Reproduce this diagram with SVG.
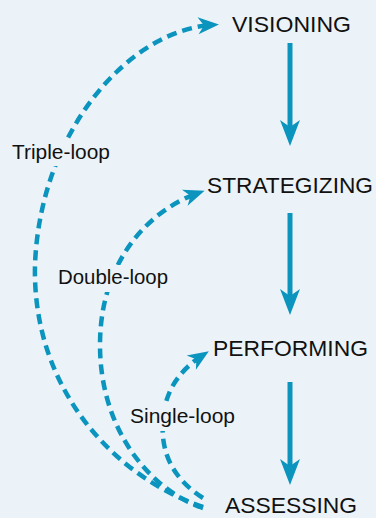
<svg xmlns="http://www.w3.org/2000/svg" width="376" height="518" viewBox="0 0 376 518">
  <style>
    .title { font-family: "Liberation Sans", "DejaVu Sans", sans-serif; font-size: 22px; fill: #111; }
    .label { font-family: "Liberation Sans", "DejaVu Sans", sans-serif; font-size: 20px; fill: #111; }
    .solid { fill: none; stroke: #0A94BE; stroke-width: 5; }
    .dashed { fill: none; stroke: #0A94BE; stroke-width: 4.5; stroke-dasharray: 10 6; }
    .lblbg { fill: #EBF3F8; }
  </style>
  <defs>
    <marker id="bigHead" markerUnits="userSpaceOnUse" markerWidth="30" markerHeight="24" refX="18" refY="0" orient="auto" overflow="visible">
      <path d="M26,0 L0,-10 L7,0 L0,10 Z" fill="#0A94BE"/>
    </marker>
    <marker id="smallHead" markerUnits="userSpaceOnUse" markerWidth="24" markerHeight="20" refX="14" refY="0" orient="auto" overflow="visible">
      <path d="M21,0 L0,-8.5 L6,0 L0,8.5 Z" fill="#0A94BE"/>
    </marker>
  </defs>
  <rect x="0" y="0" width="376" height="518" fill="#EBF3F8"/>

  <g id="connectors">
    <path id="v-s" class="solid" d="M290,43 V138" marker-end="url(#bigHead)"/>
    <path id="s-p" class="solid" d="M290,213 V307" marker-end="url(#bigHead)"/>
    <path id="p-a" class="solid" d="M290,382 V477" marker-end="url(#bigHead)"/>
    <path id="triple" class="dashed" d="M203,507 C110,475 32,385 35,265 C40,130 130,30 212,25" marker-end="url(#smallHead)"/>
    <path id="double" class="dashed" d="M203,508 C150,490 100,430 100,345 C100,260 150,210 198,193" marker-end="url(#smallHead)"/>
    <path id="single" class="dashed" d="M203,498 C175,480 160,455 163,420 C165,390 180,370 203,355" marker-end="url(#smallHead)"/>
  </g>

  <g id="label-triple">
    <rect class="lblbg" x="8" y="139" width="106" height="27"/>
    <text class="label" x="12" y="159" textLength="98" lengthAdjust="spacingAndGlyphs">Triple-loop</text>
  </g>
  <g id="label-double">
    <rect class="lblbg" x="54" y="265" width="118" height="27"/>
    <text class="label" x="58" y="284" textLength="110" lengthAdjust="spacingAndGlyphs">Double-loop</text>
  </g>
  <g id="label-single">
    <rect class="lblbg" x="126" y="404" width="113" height="27"/>
    <text class="label" x="130" y="423" textLength="105" lengthAdjust="spacingAndGlyphs">Single-loop</text>
  </g>

  <g id="node-visioning">
    <text class="title" x="232" y="32" textLength="119" lengthAdjust="spacingAndGlyphs">VISIONING</text>
  </g>
  <g id="node-strategizing">
    <text class="title" x="207" y="193" textLength="166" lengthAdjust="spacingAndGlyphs">STRATEGIZING</text>
  </g>
  <g id="node-performing">
    <text class="title" x="213" y="356" textLength="155" lengthAdjust="spacingAndGlyphs">PERFORMING</text>
  </g>
  <g id="node-assessing">
    <text class="title" x="225" y="513" textLength="132" lengthAdjust="spacingAndGlyphs">ASSESSING</text>
  </g>
</svg>
